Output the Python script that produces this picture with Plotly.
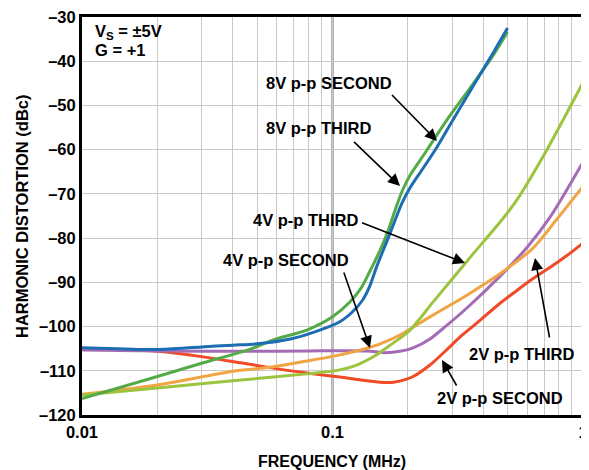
import plotly.graph_objects as go

# ---- data (frequency in MHz, harmonic distortion in dBc) ----
f_8v2 = [0.01, 0.015, 0.02, 0.03, 0.04, 0.05, 0.068, 0.085, 0.107, 0.12, 0.132, 0.141, 0.15, 0.169, 0.189, 0.204, 0.23, 0.26, 0.3, 0.36, 0.44, 0.5]
d_8v2 = [-104.8, -105.1, -105.2, -104.6, -104.2, -103.9, -102.8, -101.2, -98.9, -96.7, -94.0, -90.8, -86.5, -79.2, -72.2, -68.6, -64.2, -59.6, -53.6, -46.1, -37.9, -32.5]

f_8v3 = [0.01, 0.02, 0.03, 0.047, 0.058, 0.079, 0.1, 0.117, 0.13, 0.141, 0.155, 0.167, 0.18, 0.191, 0.204, 0.237, 0.286, 0.36, 0.44, 0.5]
d_8v3 = [-116.3, -111.3, -108.3, -105.1, -103.0, -100.8, -97.8, -94.5, -91.3, -87.5, -82.7, -78.2, -72.8, -69.0, -65.8, -60.3, -53.3, -45.5, -38.5, -33.4]

f_4v3 = [0.01, 0.02, 0.043, 0.079, 0.107, 0.125, 0.145, 0.17, 0.204, 0.25, 0.3, 0.36, 0.474, 0.544, 0.716, 1.0]
d_4v3 = [-115.5, -113.9, -112.1, -110.7, -109.8, -108.7, -106.9, -104.2, -100.8, -94.7, -89.3, -83.9, -75.9, -71.4, -60.1, -44.8]

f_4v2 = [0.01, 0.02, 0.047, 0.08, 0.137, 0.16, 0.186, 0.21, 0.245, 0.285, 0.344, 0.465, 0.6, 0.74, 1.0]
d_4v2 = [-105.3, -105.5, -105.6, -105.5, -105.5, -105.9, -105.6, -104.8, -102.8, -99.8, -95.8, -88.7, -82.0, -75.2, -62.8]

f_2v3 = [0.01, 0.02, 0.03, 0.04, 0.058, 0.079, 0.107, 0.137, 0.155, 0.186, 0.245, 0.344, 0.46, 0.63, 0.785, 1.0]
d_2v3 = [-115.3, -113.2, -111.4, -110.1, -109.1, -107.8, -106.4, -104.9, -103.9, -101.9, -97.8, -92.9, -88.3, -82.3, -75.8, -68.3]

f_2v2 = [0.01, 0.015, 0.02, 0.03, 0.043, 0.058, 0.079, 0.107, 0.13, 0.155, 0.175, 0.195, 0.21, 0.245, 0.285, 0.33, 0.39, 0.46, 0.54, 0.63, 0.74, 0.86, 1.0]
d_2v2 = [-105.0, -105.2, -105.6, -106.8, -108.2, -109.4, -110.5, -111.4, -112.1, -112.6, -112.6, -112.0, -111.3, -108.7, -105.3, -101.9, -98.5, -95.0, -92.0, -89.2, -86.6, -84.0, -81.1]

x_tick_vals = [0.01, 0.1, 1]
x_tick_text = ["0.01", "0.1", "1"]
x_minor_vals = [0.02, 0.03, 0.04, 0.05, 0.06, 0.07, 0.08, 0.09,
                0.2, 0.3, 0.4, 0.5, 0.6, 0.7, 0.8, 0.9]
y_tick_vals = [-120, -110, -100, -90, -80, -70, -60, -50, -40, -30]
y_tick_text = ["\u2013120", "\u2013110", "\u2013100", "\u201390", "\u201380",
               "\u201370", "\u201360", "\u201350", "\u201340", "\u201330"]

FONT = "Liberation Sans, Arial, Helvetica, sans-serif"

series = [
    (f_2v2, d_2v2, "#f04a26", "2V p-p SECOND"),
    (f_4v2, d_4v2, "#a56cb6", "4V p-p SECOND"),
    (f_2v3, d_2v3, "#f0a444", "2V p-p THIRD"),
    (f_4v3, d_4v3, "#9cc43e", "4V p-p THIRD"),
    (f_8v3, d_8v3, "#55aa48", "8V p-p THIRD"),
    (f_8v2, d_8v2, "#1c6db2", "8V p-p SECOND"),
]

fig = go.Figure()
for fx, dy, col, name in series:
    fig.add_trace(go.Scatter(x=fx, y=dy, mode="lines", name=name,
                             line=dict(color=col, width=3, shape="spline", smoothing=0.8)))

# page has an 8px body margin: shift the plot so it lands where the reference has it
OFF = 8
W, H = 589, 470
L, R, T, B = 82 - OFF, 6 + OFF, 17 - OFF, 55 + OFF
PW, PH = W - L - R, H - T - B

def px2paper(px, py):
    return (px - OFF - L) / PW, (H - B - (py - OFF)) / PH

# heavier gridline at 0.1 MHz
fig.add_shape(type="line", xref="x", yref="paper", x0=0.1, x1=0.1, y0=0, y1=1,
              line=dict(color="#b4b4b4", width=3), layer="between")

# text labels (window pixel positions)
labels = [
    ("8V p-p SECOND", 329, 83, "center"),
    ("8V p-p THIRD", 318, 128, "center"),
    ("4V p-p THIRD", 305, 220, "center"),
    ("4V p-p SECOND", 286, 260, "center"),
    ("2V p-p THIRD", 521, 354, "center"),
    ("2V p-p SECOND", 500, 398, "center"),
]
for txt, px, py, anc in labels:
    xp, yp = px2paper(px, py)
    fig.add_annotation(text="<b>%s</b>" % txt, x=xp, y=yp, xref="paper", yref="paper",
                       showarrow=False, xanchor=anc, yanchor="middle",
                       font=dict(family=FONT, size=16.5, color="black"))

xp, yp = px2paper(93, 32)
fig.add_annotation(text="<b>V<sub>S</sub> = \u00b15V</b>", x=xp, y=yp, xref="paper", yref="paper",
                   showarrow=False, xanchor="left", yanchor="middle",
                   font=dict(family=FONT, size=16.5, color="black"))
xp, yp = px2paper(93, 50)
fig.add_annotation(text="<b>G = +1</b>", x=xp, y=yp, xref="paper", yref="paper",
                   showarrow=False, xanchor="left", yanchor="middle",
                   font=dict(family=FONT, size=16.5, color="black"))

# arrows: (tail px, tip px)
arrows = [
    ((390, 93), (437, 141)),
    ((352, 140), (400, 186)),
    ((360, 222), (465, 263)),
    ((343, 270), (370, 348)),
    ((550, 340), (535, 258)),
    ((458, 388), (442, 360)),
]
for (tx, ty), (hx, hy) in arrows:
    xp, yp = px2paper(hx, hy)
    fig.add_annotation(text=" ", x=xp, y=yp, xref="paper", yref="paper",
                       ax=tx - hx, ay=ty - hy, axref="pixel", ayref="pixel",
                       showarrow=True, arrowhead=2, arrowsize=1.5, arrowwidth=1.6,
                       arrowcolor="black", font=dict(size=2))

# axis titles
xp, yp = px2paper(22, 216)
fig.add_annotation(text="<b>HARMONIC DISTORTION (dBc)</b>", x=xp, y=yp, xref="paper", yref="paper",
                   showarrow=False, textangle=-90, xanchor="center", yanchor="middle",
                   font=dict(family=FONT, size=16.5, color="black"))
xp, yp = px2paper(332, 461)
fig.add_annotation(text="<b>FREQUENCY (MHz)</b>", x=xp, y=yp, xref="paper", yref="paper",
                   showarrow=False, xanchor="center", yanchor="middle",
                   font=dict(family=FONT, size=16, color="black"))

fig.update_layout(
    width=W, height=H,
    margin=dict(l=L, r=R, t=T, b=B, autoexpand=False),
    paper_bgcolor="white", plot_bgcolor="white",
    showlegend=False,
    font=dict(family=FONT, size=16.5, color="black"),
)
fig.update_xaxes(type="log", range=[-2, 0.0001], tickmode="array", automargin=False,
                 ticklabeloverflow="allow",
                 tickvals=x_tick_vals, ticktext=["<b>%s</b>" % t for t in x_tick_text],
                 showgrid=True, gridcolor="#c8c8c8", gridwidth=1,
                 minor=dict(tickmode="array", tickvals=x_minor_vals, showgrid=True,
                            gridcolor="#c8c8c8", gridwidth=1, ticks=""),
                 showline=True, linecolor="black", linewidth=3, mirror=True,
                 ticks="", zeroline=False)
fig.update_yaxes(range=[-120, -29.99], tickmode="array", automargin=False,
                 ticklabeloverflow="allow",
                 tickvals=y_tick_vals, ticktext=["<b>%s</b>" % t for t in y_tick_text],
                 showgrid=True, gridcolor="#c8c8c8", gridwidth=1,
                 showline=True, linecolor="black", linewidth=3, mirror=True,
                 ticks="", zeroline=False)

fig.write_html("out.html")
